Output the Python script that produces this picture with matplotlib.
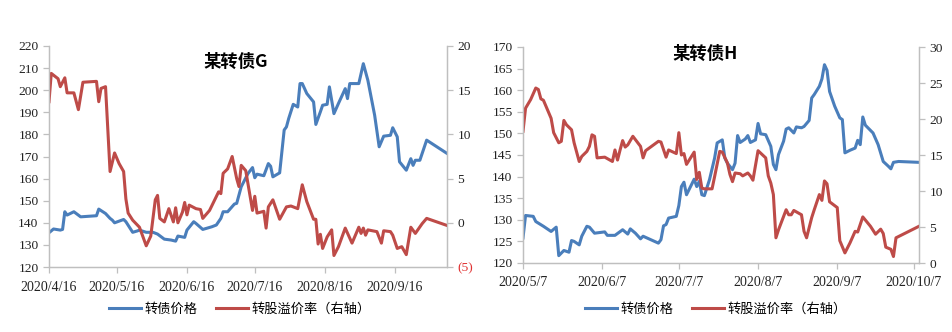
import matplotlib
matplotlib.use('Agg')
import matplotlib.pyplot as plt
import matplotlib.dates as mdates
from matplotlib.ticker import FuncFormatter, MultipleLocator
import pandas as pd

# 某转债G
g_price_dates = ["04-16","04-18","04-21","04-22","04-23","04-24","04-27","04-30",
                 "05-07","05-08","05-11","05-13","05-14","05-15","05-19","05-20","05-23","05-25","05-26","05-29",
                 "06-01","06-03","06-06","06-09","06-11","06-12","06-15","06-16","06-19","06-20","06-23","06-27","06-29",
                 "07-01","07-02","07-04","07-07","07-08","07-10","07-13","07-15","07-16","07-17","07-20","07-22","07-23","07-24","07-27","07-29","07-30","07-31",
                 "08-02","08-04","08-05","08-06","08-08","08-11","08-12","08-14","08-15","08-17","08-18","08-20","08-22","08-25","08-26","08-27","08-31",
                 "09-02","09-04","09-07","09-09","09-11","09-14","09-15","09-17","09-18","09-21","09-23","09-24","09-25","09-27","09-30",
                 "10-09"]
g_price = [135.5,137.2,136.7,137,145,143.5,145,142.7,
           143.2,146.2,144.2,142,141.2,140,141.5,140.5,135.7,136.3,136.7,135.7,
           135.7,134.9,132.6,132.2,131.7,134,133.4,136.7,140.5,139.7,137,138.2,139,
           142,145,145,148.5,148.8,156.3,162.3,165,160.4,162,161.3,166.8,165.6,160.8,162.6,182,183.4,187.2,
           193.6,192.4,203,203,198.5,194.7,184.5,190.2,193.2,193.6,201.5,189.4,194,200.7,196.2,203,203,
           212,204.5,188.7,174.4,179.2,179.6,183,178.9,167.6,163.8,169,166,168.3,168.3,177.4,
           171.4]

g_prem_dates = ["04-16","04-17","04-20","04-21","04-23","04-24","04-27","04-29","05-01",
                "05-07","05-08","05-09","05-11","05-13","05-15","05-17","05-19","05-20","05-21",
                "05-23","05-26","05-29","05-31","06-02","06-03","06-04","06-06","06-08","06-10",
                "06-11","06-12","06-14","06-15","06-16","06-17","06-20","06-22","06-23","06-26",
                "06-30","07-01","07-02","07-04","07-06","07-08","07-09","07-10","07-12","07-13",
                "07-15","07-16","07-17","07-20","07-21","07-22","07-24","07-27","07-30","08-01",
                "08-04","08-06","08-08","08-11","08-12","08-13","08-14","08-15","08-17","08-18",
                "08-19","08-20","08-22","08-25","08-28","08-31","09-01","09-02","09-03","09-04",
                "09-08","09-10","09-11","09-14","09-15","09-17","09-19","09-21","09-23","09-25",
                "09-28","09-30","10-09"]
g_prem = [13.7,16.9,16.3,15.4,16.4,14.7,14.7,12.8,15.9,
          16.0,13.7,15.2,15.4,5.8,7.9,6.7,5.8,2.7,1.1,
          0.3,-0.5,-2.6,-1.5,2.6,3.1,0.5,0.1,1.6,0.1,
          1.7,0,1.2,2.3,0.9,2.0,1.6,1.5,0.5,1.4,
          3.5,3.3,5.6,6.1,7.5,5.0,4.1,6.5,5.9,4.4,
          1.4,3.0,1.1,1.3,-0.6,1.8,2.6,0.4,1.8,1.9,
          1.6,4.3,2.4,0.4,0.4,-2.4,-1.3,-2.9,-1.6,-1.2,
          -0.8,-3.7,-2.7,-0.6,-2.3,-0.5,-1.2,-0.6,-1.4,-0.8,
          -1.0,-2.3,-0.9,-1.0,-1.4,-2.9,-2.7,-3.6,-0.5,-1.2,
          -0.1,0.5,-0.3]

# 某转债H
h_price_dates = ["05-07","05-08","05-11","05-12","05-15","05-18","05-20","05-21","05-23","05-25",
                 "05-26","05-27","05-29","05-30","06-01","06-02","06-04","06-08","06-09","06-12",
                 "06-15","06-17","06-18","06-20","06-22","06-23","06-29","06-30","07-01","07-02",
                 "07-03","07-06","07-07","07-08","07-09","07-10","07-11","07-13","07-14","07-15",
                 "07-16","07-17","07-19","07-21","07-22","07-24","07-25","07-26","07-28","07-29",
                 "07-30","07-31","08-02","08-03","08-04","08-06","08-07","08-08","08-10","08-12",
                 "08-13","08-14","08-15","08-17","08-18","08-19","08-21","08-22","08-24","08-25",
                 "08-27","08-28","08-29","08-31","09-01","09-02","09-03","09-04","09-06","09-08",
                 "09-09","09-10","09-12","09-14","09-15","09-16","09-17","09-18","09-21","09-23",
                 "09-25","09-27","09-28","09-29","10-01","10-09"]
h_price = [125.8,131.0,130.8,129.6,128.5,127.3,128.3,121.7,122.9,122.5,
           125.2,125.0,124.2,126.2,128.5,128.3,126.9,127.2,126.4,126.4,
           127.7,126.7,127.9,126.9,125.6,126.2,124.6,125.4,128.6,128.9,
           130.4,130.8,133.3,137.7,138.7,135.8,137.0,139.4,137.7,138.9,
           135.8,135.6,139.3,144.3,147.8,148.5,144.3,143.1,141.6,143.1,
           149.5,147.9,148.7,149.5,147.9,148.5,152.3,149.9,149.7,147.0,
           142.8,141.6,145.1,148.2,151.0,151.3,150.1,151.5,151.3,151.6,
           153.0,158.2,159.0,160.9,162.6,165.9,164.6,159.7,156.3,153.6,
           153.2,145.5,146.1,146.6,148.4,147.4,153.8,151.9,150.1,147.4,
           143.5,142.4,141.8,143.3,143.5,143.3]

h_prem_dates = ["05-07","05-08","05-10","05-12","05-13","05-14","05-15","05-18","05-19","05-21",
                "05-22","05-23","05-24","05-26","05-27","05-29","05-30","06-01","06-02","06-03",
                "06-04","06-05","06-08","06-11","06-12","06-13","06-14","06-15","06-16","06-17",
                "06-19","06-22","06-23","06-24","06-29","06-30","07-02","07-03","07-06","07-07",
                "07-08","07-09","07-10","07-13","07-14","07-15","07-16","07-17","07-20","07-21",
                "07-23","07-24","07-26","07-27","07-28","07-29","07-31","08-01","08-03","08-04",
                "08-05","08-07","08-10","08-11","08-12","08-13","08-14","08-15","08-18","08-19",
                "08-20","08-21","08-24","08-25","08-26","08-28","08-29","08-31","09-01","09-02",
                "09-03","09-04","09-07","09-08","09-10","09-12","09-14","09-15","09-17","09-20",
                "09-22","09-24","09-25","09-26","09-28","09-29","09-30","10-09"]
h_prem = [18.3,21.5,22.7,24.3,24.1,22.8,22.6,20.1,18.1,16.7,
          16.9,19.8,19.2,18.5,16.7,14.1,14.8,15.5,16.2,17.8,
          17.6,14.6,14.7,14.1,15.7,14.3,15.7,17.0,16.1,16.4,
          17.6,16.2,14.6,15.6,16.9,16.8,14.7,15.7,15.2,18.1,
          15.0,15.2,13.7,15.4,11.6,12.6,10.4,10.3,10.3,12.0,
          15.5,15.4,13.9,12.3,11.3,12.5,12.4,12.1,12.5,12.1,
          11.5,15.6,14.6,12.1,11.1,9.5,3.5,4.6,7.4,6.7,
          6.7,7.3,6.7,4.4,3.5,6.3,7.4,9.5,8.7,11.4,
          11.0,8.5,7.7,3.1,1.4,2.8,4.4,4.3,6.4,5.1,
          4.0,4.7,4.1,2.2,1.9,0.9,3.5,5.1]

g_ticks = ["04-16","05-16","06-16","07-16","08-16","09-16"]
h_ticks = ["05-07","06-07","07-07","08-07","09-07","10-07"]
legend_labels = ['转债价格', '转股溢价率（右轴）']

BLUE = '#4a7ebb'
RED = '#be4b48'
GRID = '#bfbfbf'
TXT = '#222222'
SERIF = 'Liberation Serif'
CJK = ['Noto Sans CJK SC', 'DejaVu Sans']


def d(s):
    return pd.to_datetime(['2020-' + x for x in s])


def date_fmt(x, pos):
    t = mdates.num2date(x)
    return '%d/%d/%d' % (t.year, t.month, t.day)


def paren_fmt(v, pos):
    if v < 0:
        return '(%d)' % abs(v)
    return '%d' % v


def style_axes(ax, ax2):
    for a in (ax, ax2):
        a.spines['top'].set_visible(False)
        for s in ('left', 'right', 'bottom'):
            a.spines[s].set_color(GRID)
            a.spines[s].set_linewidth(0.9)
        a.tick_params(colors=GRID, labelcolor=TXT, length=4, width=0.9, labelsize=9.7)
        for lab in a.get_xticklabels() + a.get_yticklabels():
            lab.set_fontfamily(SERIF)
    ax.tick_params(axis='x', labelsize=10)
    ax.xaxis.set_major_formatter(FuncFormatter(date_fmt))


def add_legend(fig, handles, cx):
    fig.legend(handles, legend_labels, loc='center',
               bbox_to_anchor=(cx / 952, 1 - 309 / 332), ncol=2, frameon=False,
               prop={'family': CJK, 'size': 9.5}, handlelength=2.4,
               handletextpad=0.3, columnspacing=1.4)


fig = plt.figure(figsize=(9.52, 3.32), dpi=100)

# ---- left: G ----
ax = fig.add_axes([49 / 952, 1 - 267 / 332, 398 / 952, 221 / 332])
ax2 = ax.twinx()
l1, = ax.plot(d(g_price_dates), g_price, color=BLUE, lw=2.2)
l2, = ax2.plot(d(g_prem_dates), g_prem, color=RED, lw=2.2)
ax.set_ylim(120, 220)
ax.yaxis.set_major_locator(MultipleLocator(10))
ax2.set_ylim(-5, 20)
ax2.yaxis.set_major_locator(MultipleLocator(5))
ax2.yaxis.set_major_formatter(FuncFormatter(paren_fmt))
ax.set_xlim(pd.Timestamp('2020-04-16'), pd.Timestamp('2020-10-09'))
ax.set_xticks(d(g_ticks))
style_axes(ax, ax2)
ax.tick_params(axis='x', pad=6)
ax.text(0.47, 0.93, '某转债G', transform=ax.transAxes, ha='center', va='center',
        fontsize=12.5, fontweight='bold', family=CJK)
fig.canvas.draw()
for lab, v in zip(ax2.get_yticklabels(), ax2.get_yticks()):
    if v < 0:
        lab.set_color('#e03030')
add_legend(fig, [l1, l2], 240)

# ---- right: H ----
bx = fig.add_axes([523 / 952, 1 - 263 / 332, 396 / 952, 216 / 332])
bx2 = bx.twinx()
m1, = bx.plot(d(h_price_dates), h_price, color=BLUE, lw=2.2)
m2, = bx2.plot(d(h_prem_dates), h_prem, color=RED, lw=2.2)
bx.set_ylim(120, 170)
bx.yaxis.set_major_locator(MultipleLocator(5))
bx2.set_ylim(0, 30)
bx2.yaxis.set_major_locator(MultipleLocator(5))
bx.set_xlim(pd.Timestamp('2020-05-07'), pd.Timestamp('2020-10-09'))
bx.set_xticks(d(h_ticks))
style_axes(bx, bx2)
bx.tick_params(axis='x', pad=5)
bx.text(0.46, 0.97, '某转债H', transform=bx.transAxes, ha='center', va='center',
        fontsize=12.5, fontweight='bold', family=CJK)
add_legend(fig, [m1, m2], 716)

fig.savefig('out.png', dpi=100)
